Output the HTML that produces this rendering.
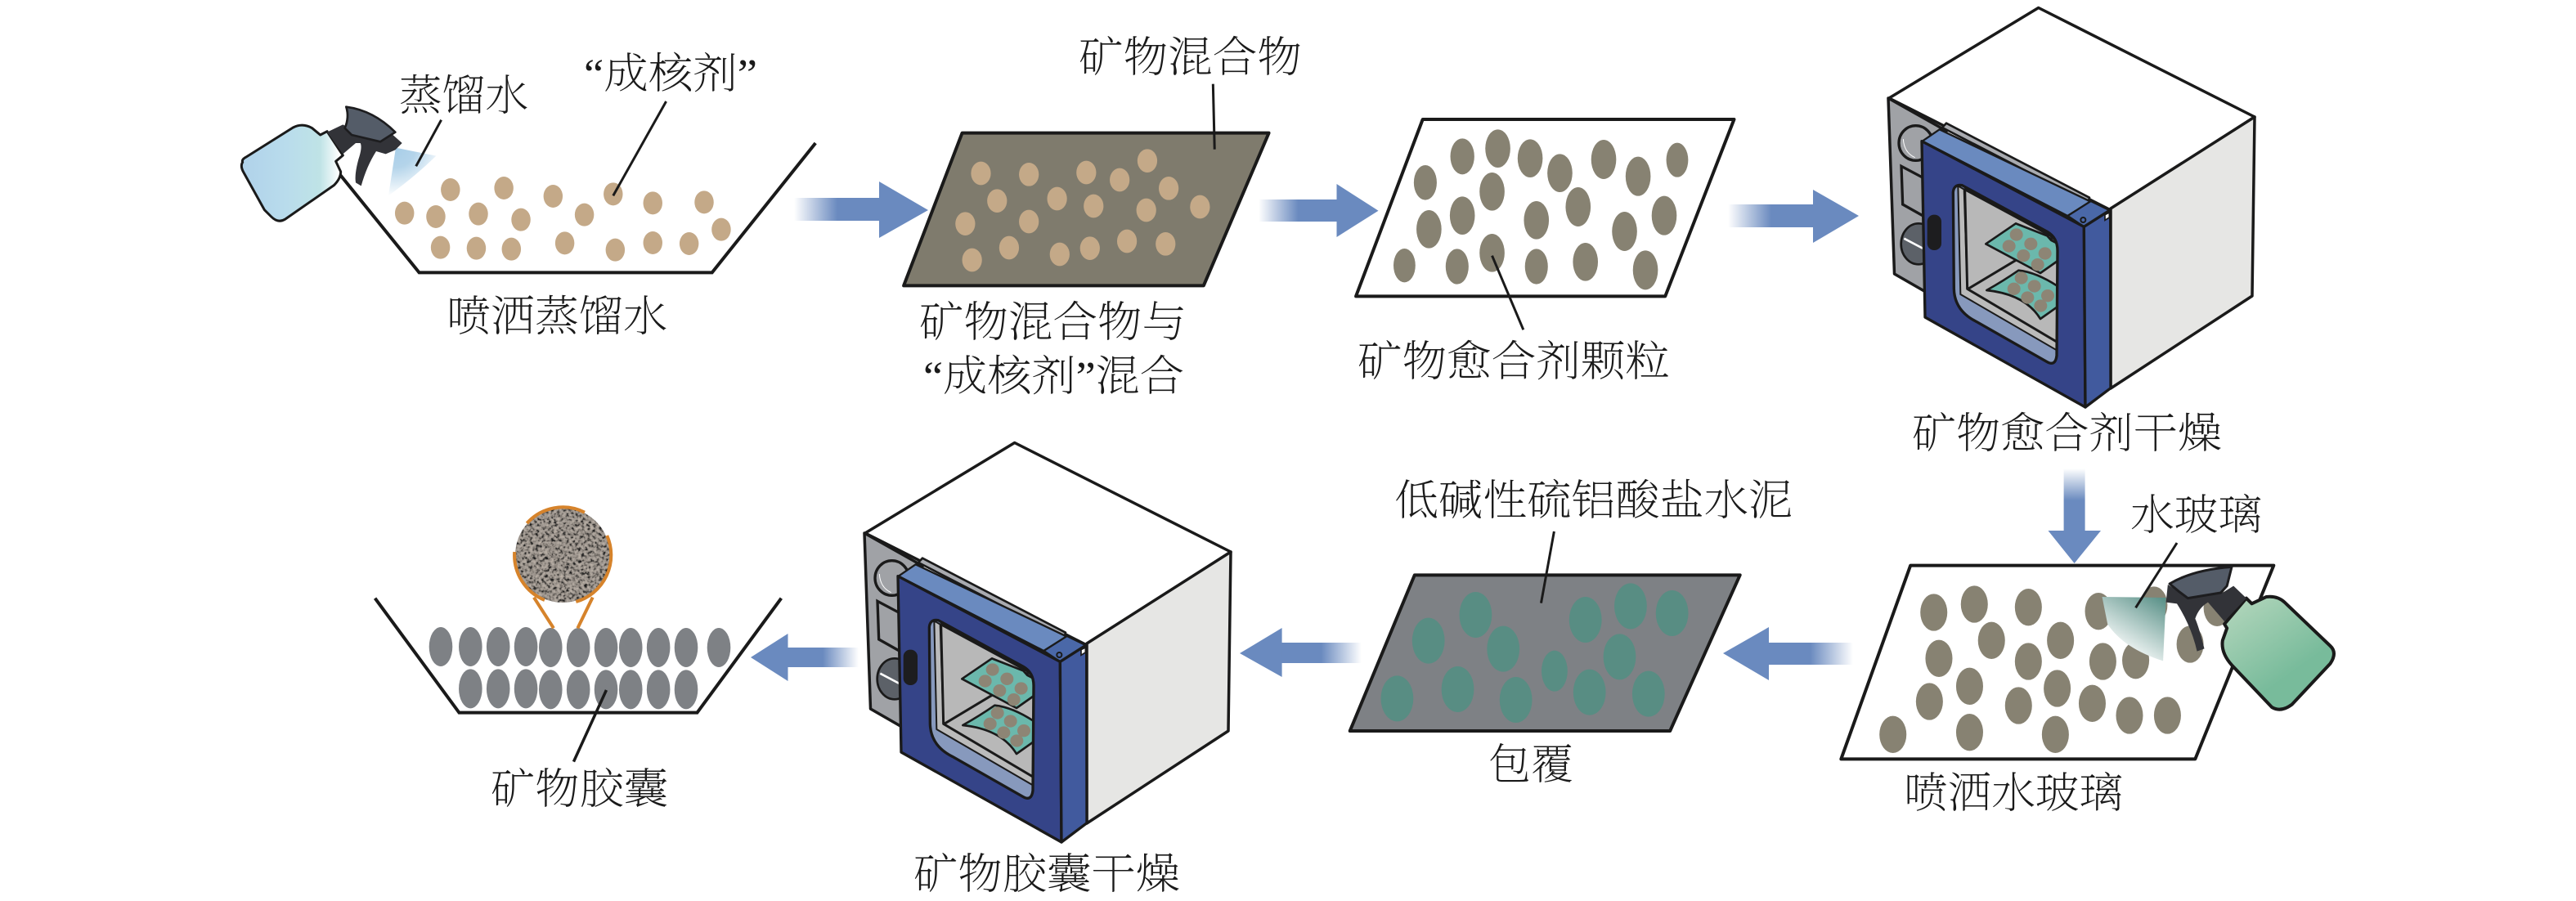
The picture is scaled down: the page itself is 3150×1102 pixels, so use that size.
<!DOCTYPE html>
<html><head><meta charset="utf-8"><style>
html,body{margin:0;padding:0;background:#fff}
svg{display:block}
.n *{vector-effect:non-scaling-stroke}
text{font-family:"Liberation Serif","Noto Serif CJK SC",serif;font-size:52px;fill:#1a1a1a;font-weight:200}
</style></head><body>
<svg width="3150" height="1102" viewBox="0 0 3150 1102" xmlns="http://www.w3.org/2000/svg">
<defs>
<linearGradient id="gr"><stop offset="0" stop-color="#fff"/><stop offset=".5" stop-color="#6a8abf"/></linearGradient>
<linearGradient id="gl" x1="1" x2="0" y1="0" y2="0"><stop offset="0" stop-color="#fff"/><stop offset=".5" stop-color="#6a8abf"/></linearGradient>
<linearGradient id="gd" x1="0" x2="0" y1="0" y2="1"><stop offset="0" stop-color="#fff"/><stop offset=".5" stop-color="#6a8abf"/></linearGradient>
<linearGradient id="bot1" gradientUnits="userSpaceOnUse" x1="50" x2="405" y1="0" y2="0"><stop offset="0" stop-color="#b0d2ea"/><stop offset=".45" stop-color="#b9dcec"/><stop offset=".8" stop-color="#bfe3e6"/><stop offset="1" stop-color="#fff"/></linearGradient>
<radialGradient id="spr1" gradientUnits="userSpaceOnUse" cx="612" cy="182" r="180"><stop offset="0" stop-color="#a8cee8"/><stop offset=".4" stop-color="#b4d4ea"/><stop offset="1" stop-color="#fff"/></radialGradient>
<linearGradient id="bot2" gradientUnits="userSpaceOnUse" x1="1190" y1="560" x2="1380" y2="760"><stop offset="0" stop-color="#acd3b8"/><stop offset="1" stop-color="#78bb9b"/></linearGradient>
<linearGradient id="spr2" gradientUnits="userSpaceOnUse" x1="1005" y1="520" x2="860" y2="700"><stop offset="0" stop-color="#5a9188"/><stop offset="1" stop-color="#fff"/></linearGradient>
<filter id="grain" x="0" y="0" width="1" height="1" color-interpolation-filters="sRGB">
<feTurbulence type="fractalNoise" baseFrequency="0.27" numOctaves="2" seed="7"/>
<feColorMatrix type="matrix" values="1 0 0 0 0  1 0 0 0 0  1 0 0 0 0  0 0 0 0 1"/>
<feComponentTransfer><feFuncR type="table" tableValues="0.1 0.1 0.14 0.4 0.6 0.66 0.72 0.76 0.8"/><feFuncG type="table" tableValues="0.1 0.1 0.14 0.38 0.57 0.63 0.68 0.72 0.76"/><feFuncB type="table" tableValues="0.1 0.1 0.14 0.36 0.54 0.6 0.64 0.68 0.72"/></feComponentTransfer>
</filter>
<clipPath id="cc"><circle cx="688" cy="679" r="58"/></clipPath>
<clipPath id="win"><path d="M265,285 Q268,255 298,260 L610,430 Q648,452 648,500 L645,885 Q640,925 610,908 L350,760 Q270,720 268,640 Z"/></clipPath>

<g id="oven">
<polygon points="2492.7,9.5 2310,120 2581,257 2757,143" fill="#fff" stroke="#1a1a1a" stroke-width="3.5" stroke-linejoin="round"/>
<polygon points="2581,255 2757,143 2754,362 2581,475" fill="#e6e6e4" stroke="#1a1a1a" stroke-width="3.5" stroke-linejoin="round"/>
<polygon points="2309,120 2380,160 2360,360 2316.5,335" fill="#a0a2a6" stroke="#1a1a1a" stroke-width="3.5" stroke-linejoin="round"/>
<g transform="translate(2300,140) scale(.33333)">
<ellipse cx="128" cy="105" rx="62" ry="64" fill="#a0a2a6" stroke="#1a1a1a" stroke-width="10"/>
<path d="M82,90 Q85,140 125,158" fill="none" stroke="#fff" stroke-width="3"/>
<polygon points="75,190 160,235 160,375 80,330" fill="#a0a2a6" stroke="#1a1a1a" stroke-width="10"/>
<ellipse cx="138" cy="475" rx="64" ry="75" fill="#5c6168" stroke="#1a1a1a" stroke-width="8"/>
<path d="M85,455 L155,492" stroke="#fff" stroke-width="8"/>
<polygon points="240,32 225,48 760,325 765,305" fill="#a9abb0" stroke="#1a1a1a" stroke-width="8" stroke-linejoin="round"/>
<polygon points="152,98 215,55 770,320 685,372" fill="#6a8abf" stroke="#1a1a1a" stroke-width="7" stroke-linejoin="round"/>
<polygon points="685,372 770,318 840,352 745,412" fill="#4a68a8" stroke="#1a1a1a" stroke-width="7" stroke-linejoin="round"/>
<circle cx="742" cy="387" r="9" fill="#4a68a8" stroke="#1a1a1a" stroke-width="6"/>
<polygon points="150,98 745,412 750,1074 162,744" fill="#354488" stroke="#1a1a1a" stroke-width="10" stroke-linejoin="round"/>
<polygon points="745,412 842,350 843,1004 750,1074" fill="#415a9e" stroke="#1a1a1a" stroke-width="10" stroke-linejoin="round"/>
<path d="M822,368 L838,360 L838,378 L822,388 Z" fill="#fff" stroke="#1a1a1a" stroke-width="5"/>
<path d="M265,285 Q268,255 298,260 L610,430 Q648,452 648,500 L645,885 Q640,925 610,908 L350,760 Q270,720 268,640 Z" fill="#8799bd"/>
<g clip-path="url(#win)">
<polygon points="283,262 305,275 317,640 650,830 650,868 292,660" fill="#bbbbbb" stroke="#1a1a1a" stroke-width="6" stroke-linejoin="round"/>
<path d="M308,275 L610,438 Q640,452 660,490 L660,843 L317,640 Z" fill="#b8b8b8" stroke="#1a1a1a" stroke-width="9" stroke-linejoin="round"/>
<path d="M320,640 L495,535" stroke="#1a1a1a" stroke-width="9"/>
<path d="M605,445 L625,455 L640,475" fill="#fff" stroke="#1a1a1a" stroke-width="5"/>
<polygon points="385,475 495,400 610,445 625,462 680,490 680,515 585,582" fill="#6bb8ac" stroke="#1a1a1a" stroke-width="8" stroke-linejoin="round"/>
<g fill="#8d8575"><ellipse cx="497" cy="441" rx="24" ry="23"/><ellipse cx="470" cy="483" rx="24" ry="23"/><ellipse cx="550" cy="475" rx="24" ry="23"/><ellipse cx="602" cy="510" rx="24" ry="23"/><ellipse cx="523" cy="518" rx="24" ry="23"/><ellipse cx="575" cy="551" rx="24" ry="23"/></g>
<path d="M388,645 Q450,610 505,572 Q580,580 670,645 L670,690 L585,750 Q530,660 388,645 Z" fill="#6bb8ac" stroke="#1a1a1a" stroke-width="8" stroke-linejoin="round"/>
<g fill="#8d8575"><ellipse cx="515" cy="600" rx="24" ry="23"/><ellipse cx="488" cy="640" rx="24" ry="23"/><ellipse cx="563" cy="630" rx="24" ry="23"/><ellipse cx="612" cy="665" rx="24" ry="23"/><ellipse cx="538" cy="672" rx="24" ry="23"/><ellipse cx="586" cy="702" rx="24" ry="23"/></g>
</g>
<path d="M265,285 Q268,255 298,260 L610,430 Q648,452 648,500 L645,885 Q640,925 610,908 L350,760 Q270,720 268,640 Z" fill="none" stroke="#1a1a1a" stroke-width="10" stroke-linejoin="round"/>
<rect x="170" y="368" width="52" height="130" rx="25" fill="#1d1d1f"/>
</g>
</g>
</defs>

<!-- Step 1 -->
<g class="n" transform="translate(260,0) scale(.5102,.33333)">
<path d="M305,640 L495,1000 L1197,1000 L1445,525" fill="none" stroke="#1a1a1a" stroke-width="4"/>
<g fill="#c4a988"><ellipse cx="570" cy="696" rx="23" ry="42"/><ellipse cx="698" cy="690" rx="23" ry="42"/><ellipse cx="816" cy="720" rx="23" ry="42"/><ellipse cx="960" cy="712" rx="23" ry="42"/><ellipse cx="1055" cy="745" rx="23" ry="42"/><ellipse cx="1178" cy="742" rx="23" ry="42"/><ellipse cx="460" cy="782" rx="23" ry="42"/><ellipse cx="535" cy="795" rx="23" ry="42"/><ellipse cx="637" cy="785" rx="23" ry="42"/><ellipse cx="739" cy="806" rx="23" ry="42"/><ellipse cx="891" cy="788" rx="23" ry="42"/><ellipse cx="1219" cy="842" rx="23" ry="42"/><ellipse cx="546" cy="908" rx="23" ry="42"/><ellipse cx="632" cy="911" rx="23" ry="42"/><ellipse cx="716" cy="914" rx="23" ry="42"/><ellipse cx="844" cy="892" rx="23" ry="42"/><ellipse cx="965" cy="917" rx="23" ry="42"/><ellipse cx="1055" cy="891" rx="23" ry="42"/><ellipse cx="1142" cy="894" rx="23" ry="42"/></g>
<path d="M1087,372 L960,718" stroke="#1a1a1a" stroke-width="3"/>
</g>
<g transform="translate(280,120) scale(.33333)">
<path d="M612,182 L760,212 Q680,290 585,358 Z" fill="url(#spr1)"/>
<path d="M50,235 Q45,225 65,215 L235,108 Q270,90 305,110 L335,135 L360,122 L418,210 L392,232 L410,270 Q410,295 385,320 L205,445 Q180,460 155,435 L130,410 L55,275 Q40,250 50,235 Z" fill="url(#bot1)" stroke="#1a1a1a" stroke-width="9" stroke-linejoin="round"/>
<path d="M360,125 L418,97 L432,105 L425,115 L455,135 L550,160 L590,125 L635,165 L610,190 L575,205 L540,195 Q505,250 485,322 L465,310 Q460,280 475,225 Q490,180 482,165 L465,165 L418,205 Z" fill="#323338"/>
<path d="M430,32 Q530,45 610,125 L555,160 L450,135 L425,110 Q442,70 430,32 Z" fill="#545c68" stroke="#1d1d1f" stroke-width="8" stroke-linejoin="round"/>
</g>
<path d="M539.6,146.7 L508.7,203.3" stroke="#1a1a1a" stroke-width="3"/>

<!-- Step 2 -->
<g class="n" transform="translate(1100,30) scale(.6378,.33333)">
<polygon points="120,398 708,398 583,958 8,958" fill="#7f7b6d" stroke="#1a1a1a" stroke-width="4" stroke-linejoin="round"/>
<g fill="#c4a988"><ellipse cx="156" cy="546" rx="19" ry="43"/><ellipse cx="248" cy="550" rx="19" ry="43"/><ellipse cx="358" cy="543" rx="19" ry="43"/><ellipse cx="422" cy="570" rx="19" ry="43"/><ellipse cx="475" cy="500" rx="19" ry="43"/><ellipse cx="516" cy="601" rx="19" ry="43"/><ellipse cx="187" cy="647" rx="19" ry="43"/><ellipse cx="302" cy="639" rx="19" ry="43"/><ellipse cx="372" cy="666" rx="19" ry="43"/><ellipse cx="473" cy="681" rx="19" ry="43"/><ellipse cx="576" cy="669" rx="19" ry="43"/><ellipse cx="126" cy="731" rx="19" ry="43"/><ellipse cx="248" cy="723" rx="19" ry="43"/><ellipse cx="210" cy="819" rx="19" ry="43"/><ellipse cx="139" cy="864" rx="19" ry="43"/><ellipse cx="307" cy="843" rx="19" ry="43"/><ellipse cx="365" cy="821" rx="19" ry="43"/><ellipse cx="436" cy="795" rx="19" ry="43"/><ellipse cx="510" cy="805" rx="19" ry="43"/></g>
<path d="M601,218 L604,458" stroke="#1a1a1a" stroke-width="3"/>
<!-- Step 3 -->
<polygon points="1003,348 1600,348 1468,997 875,997" fill="#fff" stroke="#1a1a1a" stroke-width="4" stroke-linejoin="round"/>
<g fill="#878272"><ellipse cx="1079" cy="484" rx="23" ry="66"/><ellipse cx="1147" cy="455" rx="24" ry="70"/><ellipse cx="1209" cy="491" rx="24" ry="70"/><ellipse cx="1266" cy="545" rx="24" ry="70"/><ellipse cx="1350" cy="495" rx="24" ry="72"/><ellipse cx="1416" cy="557" rx="24" ry="72"/><ellipse cx="1491" cy="497" rx="21" ry="63"/><ellipse cx="1008" cy="580" rx="22" ry="64"/><ellipse cx="1136" cy="613" rx="24" ry="70"/><ellipse cx="1079" cy="701" rx="24" ry="70"/><ellipse cx="1015" cy="751" rx="24" ry="70"/><ellipse cx="1221" cy="718" rx="24" ry="70"/><ellipse cx="1301" cy="669" rx="24" ry="72"/><ellipse cx="1390" cy="759" rx="24" ry="72"/><ellipse cx="1466" cy="701" rx="24" ry="72"/><ellipse cx="1136" cy="838" rx="24" ry="70"/><ellipse cx="968" cy="884" rx="21" ry="62"/><ellipse cx="1069" cy="888" rx="22" ry="65"/><ellipse cx="1221" cy="888" rx="22" ry="65"/><ellipse cx="1315" cy="871" rx="24" ry="70"/><ellipse cx="1430" cy="901" rx="24" ry="72"/></g>
<path d="M1136,848 L1196,1120" stroke="#1a1a1a" stroke-width="3"/>
</g>

<!-- Ovens -->
<use href="#oven"/>
<use href="#oven" transform="translate(-1252,532)"/>

<!-- Step water glass -->
<g class="n" transform="translate(2200,560) scale(.4464,.33333)">
<polygon points="305,395 1300,395 1085,1105 115,1105" fill="#fff" stroke="#1a1a1a" stroke-width="4" stroke-linejoin="round"/>
<g fill="#878272"><ellipse cx="369" cy="567" rx="37" ry="68"/><ellipse cx="480" cy="537" rx="37" ry="68"/><ellipse cx="628" cy="548" rx="37" ry="68"/><ellipse cx="820" cy="563" rx="37" ry="68"/><ellipse cx="972" cy="540" rx="37" ry="68"/><ellipse cx="527" cy="670" rx="37" ry="68"/><ellipse cx="716" cy="670" rx="37" ry="68"/><ellipse cx="1145" cy="550" rx="37" ry="68"/><ellipse cx="383" cy="736" rx="37" ry="68"/><ellipse cx="628" cy="747" rx="37" ry="68"/><ellipse cx="832" cy="747" rx="37" ry="68"/><ellipse cx="922" cy="743" rx="37" ry="68"/><ellipse cx="1071" cy="684" rx="37" ry="68"/><ellipse cx="467" cy="838" rx="37" ry="68"/><ellipse cx="707" cy="846" rx="37" ry="68"/><ellipse cx="357" cy="894" rx="37" ry="68"/><ellipse cx="601" cy="909" rx="37" ry="68"/><ellipse cx="803" cy="901" rx="37" ry="68"/><ellipse cx="905" cy="945" rx="37" ry="68"/><ellipse cx="1009" cy="945" rx="37" ry="68"/><ellipse cx="257" cy="1015" rx="37" ry="68"/><ellipse cx="467" cy="1007" rx="37" ry="68"/><ellipse cx="702" cy="1015" rx="37" ry="68"/></g>
<path d="M830,510 L1005,513 L997,745 Q890,700 845,610 Z" fill="url(#spr2)"/>
<path d="M1035,312 L922,550" stroke="#1a1a1a" stroke-width="3"/>
<path d="M1240,535 L1280,510 Q1310,505 1330,530 L1455,690 Q1475,715 1455,755 L1350,905 Q1320,935 1295,915 L1185,760 Q1155,715 1160,670 L1172,625 L1165,610 L1225,515 Z" fill="url(#bot2)" stroke="#1a1a1a" stroke-width="4" stroke-linejoin="round"/>
<path d="M1010,465 L1005,530 L1035,535 Q1075,620 1090,710 L1110,700 Q1095,620 1085,590 Q1095,550 1120,530 L1165,600 L1225,515 L1190,470 L1160,495 L1070,515 Z" fill="#323338"/>
<path d="M1015,462 Q1080,410 1185,400 L1172,470 L1155,495 L1065,515 L1040,490 Z" fill="#545c68" stroke="#1d1d1f" stroke-width="3" stroke-linejoin="round"/>
</g>

<!-- Step coating -->
<g class="n" transform="translate(1500,570) scale(.4974,.33333)">
<polygon points="462,400 1262,400 1090,972 303,972" fill="#7e8185" stroke="#1a1a1a" stroke-width="4" stroke-linejoin="round"/>
<g fill="#588d83"><ellipse cx="612" cy="546" rx="40" ry="84"/><ellipse cx="496" cy="641" rx="40" ry="84"/><ellipse cx="680" cy="671" rx="40" ry="84"/><ellipse cx="882" cy="564" rx="40" ry="84"/><ellipse cx="993" cy="514" rx="40" ry="84"/><ellipse cx="1095" cy="540" rx="40" ry="84"/><ellipse cx="966" cy="700" rx="40" ry="84"/><ellipse cx="806" cy="752" rx="32" ry="75"/><ellipse cx="568" cy="819" rx="40" ry="84"/><ellipse cx="419" cy="853" rx="40" ry="84"/><ellipse cx="711" cy="858" rx="40" ry="84"/><ellipse cx="892" cy="830" rx="40" ry="84"/><ellipse cx="1037" cy="836" rx="40" ry="84"/></g>
<path d="M805,240 L773,503" stroke="#1a1a1a" stroke-width="3"/>
</g>

<!-- Capsules -->
<rect x="628" y="619" width="120" height="120" filter="url(#grain)" clip-path="url(#cc)"/>
<g class="n" transform="translate(430,590) scale(.4082,.33333)">
<path d="M70,425 L322,845 L1035,845 L1287,425" fill="none" stroke="#1a1a1a" stroke-width="4"/>
<g fill="#7e8185"><ellipse cx="267" cy="603" rx="35" ry="72"/><ellipse cx="356" cy="603" rx="35" ry="72"/><ellipse cx="439" cy="603" rx="35" ry="72"/><ellipse cx="522" cy="603" rx="35" ry="72"/><ellipse cx="596" cy="606" rx="35" ry="72"/><ellipse cx="679" cy="606" rx="35" ry="72"/><ellipse cx="762" cy="606" rx="35" ry="72"/><ellipse cx="836" cy="606" rx="35" ry="72"/><ellipse cx="919" cy="606" rx="35" ry="72"/><ellipse cx="1002" cy="606" rx="35" ry="72"/><ellipse cx="1100" cy="606" rx="35" ry="72"/><ellipse cx="356" cy="757" rx="35" ry="72"/><ellipse cx="439" cy="757" rx="35" ry="72"/><ellipse cx="522" cy="757" rx="35" ry="72"/><ellipse cx="596" cy="760" rx="35" ry="72"/><ellipse cx="679" cy="760" rx="35" ry="72"/><ellipse cx="762" cy="760" rx="35" ry="72"/><ellipse cx="836" cy="760" rx="35" ry="72"/><ellipse cx="919" cy="760" rx="35" ry="72"/><ellipse cx="1002" cy="760" rx="35" ry="72"/></g>
<g fill="none" stroke="#d6832b" stroke-width="4"><path d="M525,150 A145,178 0 0 1 698,110"/><path d="M765,195 A145,178 0 0 1 672,438"/><path d="M578,432 A145,178 0 0 1 488,255"/><path d="M546,422 L605,535"/><path d="M722,422 L677,535"/></g>
<path d="M763,762 L665,1025" stroke="#1a1a1a" stroke-width="3.5"/>
</g>

<!-- Arrows -->
<rect x="971" y="242" width="106" height="28" fill="url(#gr)"/><polygon points="1075,222 1135,257 1075,291" fill="#6a8abf"/>
<rect x="1539" y="244" width="97" height="27" fill="url(#gr)"/><polygon points="1634.5,225 1685.5,257.7 1634.5,290" fill="#6a8abf"/>
<rect x="2113" y="250" width="106" height="28" fill="url(#gr)"/><polygon points="2217,232 2273,264 2217,297" fill="#6a8abf"/>
<rect x="2523.6" y="573" width="26" height="78" fill="url(#gd)"/><polygon points="2504.5,649 2569,649 2536.6,689" fill="#6a8abf"/>
<rect x="2161" y="786" width="105" height="27" fill="url(#gl)"/><polygon points="2163,767 2107,799 2163,832" fill="#6a8abf"/>
<rect x="1566" y="786" width="99" height="25" fill="url(#gl)"/><polygon points="1567.6,768 1516,799 1567.6,828" fill="#6a8abf"/>
<rect x="962" y="792" width="88" height="24" fill="url(#gl)"/><polygon points="963.5,775 918,804 963.5,833" fill="#6a8abf"/>

<!-- Labels -->
<text x="488" y="135" textLength="158" lengthAdjust="spacingAndGlyphs">蒸馏水</text>
<text x="714" y="108" textLength="212" lengthAdjust="spacingAndGlyphs">“成核剂”</text>
<text x="546" y="405" textLength="270" lengthAdjust="spacingAndGlyphs">喷洒蒸馏水</text>
<text x="1319" y="88" textLength="273" lengthAdjust="spacingAndGlyphs">矿物混合物</text>
<text x="1124" y="412" textLength="327" lengthAdjust="spacingAndGlyphs">矿物混合物与</text>
<text x="1129" y="478" textLength="319" lengthAdjust="spacingAndGlyphs">“成核剂”混合</text>
<text x="1660" y="460" textLength="382" lengthAdjust="spacingAndGlyphs">矿物愈合剂颗粒</text>
<text x="2338" y="548" textLength="379" lengthAdjust="spacingAndGlyphs">矿物愈合剂干燥</text>
<text x="2605" y="648" textLength="161" lengthAdjust="spacingAndGlyphs">水玻璃</text>
<text x="2328" y="988" textLength="268" lengthAdjust="spacingAndGlyphs">喷洒水玻璃</text>
<text x="1705" y="630" textLength="487" lengthAdjust="spacingAndGlyphs">低碱性硫铝酸盐水泥</text>
<text x="1820" y="953" textLength="104" lengthAdjust="spacingAndGlyphs">包覆</text>
<text x="600" y="983" textLength="217" lengthAdjust="spacingAndGlyphs">矿物胶囊</text>
<text x="1117" y="1087" textLength="326" lengthAdjust="spacingAndGlyphs">矿物胶囊干燥</text>
</svg>
</body></html>
